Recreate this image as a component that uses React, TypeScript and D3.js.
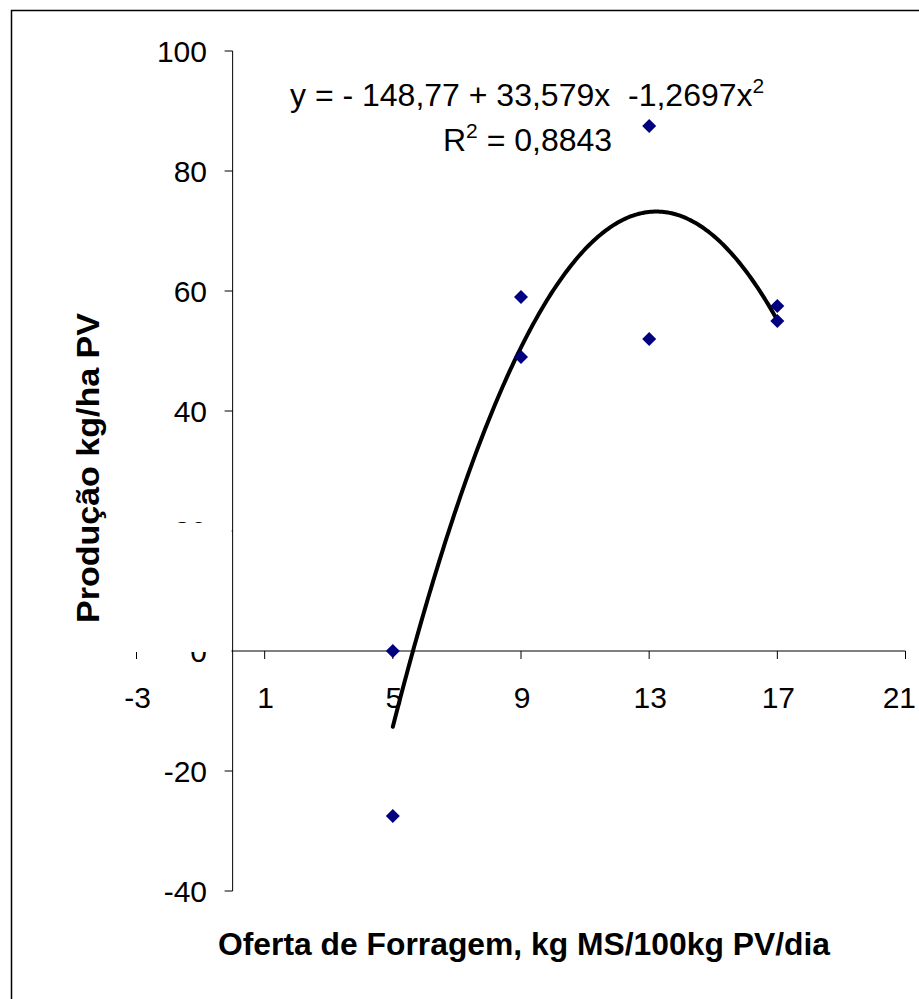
import React from "react";
import * as d3 from "d3";

const xTicks = [-3, 1, 5, 9, 13, 17, 21];
const yTicks = [-40, -20, 0, 20, 40, 60, 80, 100];
const pointX = [5, 5, 9, 9, 13, 13, 17, 17];
const pointY = [0, -27.5, 59, 49, 87.5, 52, 57.5, 55];
const trendCoefs = [-148.77, 33.579, -1.2697];
const trendRange = [5, 17];
const eqText = "y = - 148,77 + 33,579x  -1,2697x";
const r2Text = " = 0,8843";
const xTitle = "Oferta de Forragem, kg MS/100kg PV/dia";
const yTitle = "Produção kg/ha PV";

const FONT = "'Liberation Sans', Arial, sans-serif";

export default function App() {
  const x = d3.scaleLinear().domain([-3, 21]).range([136.5, 905.5]);
  const y = d3.scaleLinear().domain([-40, 100]).range([891, 51]);

  const nS = 200;
  const trendPts: [number, number][] = d3.range(nS + 1).map((i) => {
    const xv = trendRange[0] + ((trendRange[1] - trendRange[0]) * i) / nS;
    const yv = trendCoefs[0] + trendCoefs[1] * xv + trendCoefs[2] * xv * xv;
    return [x(xv), y(yv)];
  });
  const line = d3.line();

  const x0 = x(0);
  const y0 = y(0);
  const tickFs = 30;

  return (
    <svg
      width={919}
      height={999}
      style={{ position: "absolute", left: 0, top: 0, background: "#fff" }}
      fontFamily={FONT}
    >
      <rect x={0} y={0} width={919} height={999} fill="#fff" />
      <rect x={11.5} y={10.5} width={1000} height={1000} fill="none" stroke="#000" strokeWidth={1.5} />

      {/* y axis */}
      <line x1={x0} x2={x0} y1={y(100)} y2={y(-40)} stroke="#000" strokeWidth={1} />
      {yTicks.map((t) => (
        <g key={"yt" + t}>
          <line x1={x0 - 8} x2={x0} y1={y(t)} y2={y(t)} stroke="#000" strokeWidth={1} />
          <text x={207} y={y(t) + tickFs * 0.36} textAnchor="end" fontSize={tickFs} fill="#000">
            {t}
          </text>
        </g>
      ))}

      {/* x axis */}
      <line x1={x(-3)} x2={x(21)} y1={y0} y2={y0} stroke="#000" strokeWidth={1} />
      {xTicks.map((t) => {
        const cx = x(t) + 1;
        const overflow = cx + 18 > 916;
        return (
          <g key={"xt" + t}>
            <line x1={x(t)} x2={x(t)} y1={y0} y2={y0 + 8} stroke="#000" strokeWidth={1} />
            <text
              x={overflow ? 916 : cx}
              y={708}
              textAnchor={overflow ? "end" : "middle"}
              fontSize={tickFs}
              fill="#000"
            >
              {t}
            </text>
          </g>
        );
      })}

      {/* occluding white box (as in the reference) */}
      <rect x={112} y={523} width={x0 - 112 - 1} height={y0 + 1 - 523} fill="#fff" />

      {/* trendline */}
      <path d={line(trendPts) || ""} fill="none" stroke="#000" strokeWidth={4} strokeLinecap="round" />

      {/* points */}
      {pointX.map((px, i) => {
        const cx = x(px);
        const cy = y(pointY[i]);
        const r = 7;
        return (
          <path
            key={"p" + i}
            d={`M${cx},${cy - r}L${cx + r},${cy}L${cx},${cy + r}L${cx - r},${cy}Z`}
            fill="#000080"
          />
        );
      })}

      {/* equation */}
      <text x={290} y={106} fontSize={32} fill="#000" style={{ whiteSpace: "pre" }} xmlSpace="preserve">
        {eqText}
        <tspan fontSize={21} dy={-13}>2</tspan>
      </text>
      <text x={443} y={151} fontSize={32} fill="#000" style={{ whiteSpace: "pre" }} xmlSpace="preserve">
        R<tspan fontSize={21} dy={-13}>2</tspan>
        <tspan dy={13}>{r2Text}</tspan>
      </text>

      {/* axis titles */}
      <text
        x={524}
        y={955}
        textAnchor="middle"
        fontSize={31}
        fontWeight="bold"
        fill="#000"
        textLength={612}
        lengthAdjust="spacingAndGlyphs"
      >
        {xTitle}
      </text>
      <text
        transform={`translate(99,${468}) rotate(-90)`}
        textAnchor="middle"
        fontSize={31}
        fontWeight="bold"
        fill="#000"
        textLength={310}
        lengthAdjust="spacingAndGlyphs"
      >
        {yTitle}
      </text>
    </svg>
  );
}
